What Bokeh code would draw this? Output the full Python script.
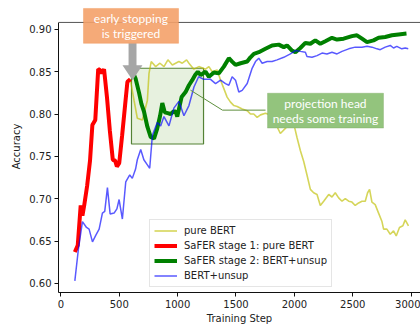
from bokeh.plotting import figure
from bokeh.models import (Range1d, Legend, LegendItem, BoxAnnotation, PolyAnnotation,
                          Label, Span, FixedTicker, NumeralTickFormatter)
from bokeh.embed import file_html
from bokeh.resources import INLINE

# ---------------- data ----------------
stage1_steps = [120, 145, 170, 185, 200, 225, 250, 270, 295, 320, 335, 350, 370, 395, 420,
                445, 465, 480, 500, 525, 550, 570, 595]
stage1_acc = [0.637, 0.645, 0.692, 0.680, 0.692, 0.715, 0.745, 0.787, 0.793, 0.853, 0.852,
              0.848, 0.853, 0.820, 0.780, 0.746, 0.745, 0.738, 0.742, 0.775, 0.810, 0.838, 0.841]

bert_steps_tail = [627, 655, 698, 741, 755, 774, 812, 849, 883, 917, 955, 1011, 1040, 1077,
                   1097, 1139, 1182, 1239, 1268, 1296, 1339, 1368, 1396, 1424, 1453, 1482,
                   1510, 1553, 1596, 1624, 1652, 1681, 1710, 1752, 1795, 1838, 1880, 1923,
                   1966, 1994, 2023, 2051, 2080, 2108, 2137, 2165, 2194, 2222, 2251, 2294,
                   2322, 2350, 2379, 2408, 2436, 2465, 2493, 2521, 2550, 2579, 2607, 2627,
                   2644, 2664, 2692, 2721, 2750, 2764, 2792, 2821, 2849, 2872, 2900, 2929,
                   2949, 2977]
bert_acc_tail = [0.816, 0.795, 0.793, 0.816, 0.848, 0.862, 0.856, 0.860, 0.856, 0.864, 0.858,
                 0.862, 0.860, 0.864, 0.860, 0.853, 0.856, 0.853, 0.856, 0.850, 0.852, 0.840,
                 0.830, 0.820, 0.814, 0.810, 0.809, 0.806, 0.804, 0.800, 0.800, 0.796, 0.799,
                 0.801, 0.799, 0.789, 0.777, 0.783, 0.791, 0.789, 0.772, 0.757, 0.744, 0.728,
                 0.711, 0.707, 0.705, 0.692, 0.697, 0.705, 0.702, 0.707, 0.701, 0.697, 0.700,
                 0.697, 0.696, 0.692, 0.695, 0.697, 0.697, 0.707, 0.711, 0.696, 0.693, 0.683,
                 0.673, 0.664, 0.664, 0.658, 0.662, 0.656, 0.666, 0.668, 0.675, 0.668]
bert_steps = stage1_steps + bert_steps_tail
bert_acc = stage1_acc + bert_acc_tail

stage2_steps = [615, 640, 670, 690, 712, 741, 769, 798, 826, 850, 869, 890, 915, 940, 965,
                983, 997, 1034, 1068, 1097, 1125, 1150, 1173, 1197, 1239, 1268, 1311, 1353,
                1396, 1439, 1467, 1496, 1539, 1596, 1624, 1653, 1695, 1752, 1809, 1866, 1909,
                1937, 1980, 2009, 2051, 2094, 2137, 2179, 2222, 2265, 2322, 2365, 2422, 2493,
                2536, 2579, 2622, 2678, 2721, 2778, 2835, 2892, 2960]
stage2_acc = [0.850, 0.842, 0.825, 0.812, 0.803, 0.785, 0.773, 0.771, 0.783, 0.798, 0.813,
              0.802, 0.801, 0.800, 0.803, 0.803, 0.797, 0.820, 0.826, 0.834, 0.840, 0.846,
              0.850, 0.846, 0.850, 0.844, 0.849, 0.848, 0.856, 0.866, 0.862, 0.858, 0.860,
              0.862, 0.867, 0.871, 0.873, 0.877, 0.881, 0.882, 0.879, 0.881, 0.875, 0.873,
              0.878, 0.884, 0.883, 0.887, 0.883, 0.886, 0.890, 0.888, 0.889, 0.892, 0.893,
              0.889, 0.885, 0.887, 0.890, 0.891, 0.893, 0.894, 0.895]

unsup_steps = [120, 150, 185, 220, 242, 271, 300, 328, 356, 376, 399, 422, 456, 480, 499,
               527, 556, 590, 612, 640, 655, 684, 711, 741, 761, 784, 826, 855, 883, 926,
               968, 1011, 1054, 1097, 1140, 1180, 1224, 1282, 1325, 1368, 1410, 1439, 1467,
               1496, 1524, 1553, 1596, 1638, 1667, 1695, 1724, 1767, 1809, 1852, 1909, 1966,
               2009, 2051, 2094, 2108, 2151, 2194, 2237, 2279, 2322, 2365, 2408, 2465, 2521,
               2579, 2622, 2665, 2707, 2735, 2778, 2821, 2849, 2877, 2920, 2949, 2975]
unsup_acc = [0.603, 0.640, 0.673, 0.666, 0.664, 0.649, 0.657, 0.664, 0.683, 0.685, 0.713,
             0.682, 0.683, 0.688, 0.699, 0.676, 0.720, 0.728, 0.724, 0.735, 0.746, 0.758,
             0.746, 0.740, 0.736, 0.775, 0.790, 0.786, 0.797, 0.786, 0.807, 0.815, 0.798,
             0.810, 0.832, 0.844, 0.841, 0.841, 0.836, 0.840, 0.836, 0.834, 0.844, 0.840,
             0.826, 0.828, 0.836, 0.854, 0.862, 0.866, 0.860, 0.862, 0.862, 0.864, 0.867,
             0.871, 0.875, 0.874, 0.873, 0.868, 0.867, 0.869, 0.872, 0.871, 0.873, 0.871,
             0.874, 0.877, 0.879, 0.879, 0.880, 0.879, 0.877, 0.876, 0.879, 0.881, 0.878,
             0.880, 0.877, 0.878, 0.877]

series_labels = ["pure BERT", "SaFER stage 1: pure BERT", "SaFER stage 2: BERT+unsup", "BERT+unsup"]
x_ticks = [0, 500, 1000, 1500, 2000, 2500, 3000]
y_ticks = [0.60, 0.65, 0.70, 0.75, 0.80, 0.85, 0.90]

# ---------------- figure ----------------
X0, X1 = -20, 3080
Y0, Y_AX_TOP, Y1 = 0.5892, 0.9082, 0.9341   # frame extends above the axes box for the callout
p = figure(width=420, height=326, output_backend="svg", toolbar_location=None,
           x_range=Range1d(X0, X1), y_range=Range1d(Y0, Y1),
           min_border_left=58, min_border_right=0, min_border_top=0, min_border_bottom=33)
p.outline_line_color = None
p.grid.visible = False
p.background_fill_color = "white"

for ax in (p.xaxis[0], p.yaxis[0]):
    ax.axis_line_color = "#111111"
    ax.major_tick_line_color = "#111111"
    ax.major_tick_out = 4
    ax.major_tick_in = 0
    ax.minor_tick_line_color = None
    ax.major_label_text_font = "DejaVu Sans"
    ax.major_label_text_font_size = "10px"
    ax.major_label_text_color = "#222222"
    ax.axis_label_text_font = "DejaVu Sans"
    ax.axis_label_text_font_size = "10px"
    ax.axis_label_text_font_style = "normal"
    ax.axis_label_text_color = "#222222"
    ax.major_label_standoff = 3

p.xaxis.ticker = FixedTicker(ticks=x_ticks)
p.yaxis.ticker = FixedTicker(ticks=y_ticks)
p.yaxis.formatter = NumeralTickFormatter(format="0.00")
p.yaxis.bounds = (Y0, Y_AX_TOP)
p.xaxis.axis_label = "Training Step"
p.yaxis.axis_label = "Accuracy"
p.xaxis.axis_label_standoff = 2
p.yaxis.axis_label_standoff = 4

p.add_layout(Span(location=Y_AX_TOP, dimension="width", line_color="#555555", line_width=1))

# shaded region (drawn beneath the curves)
p.add_layout(BoxAnnotation(left=605, right=1222, bottom=0.7646, top=0.8541,
                           fill_color="#e4f0dc", fill_alpha=0.9,
                           line_color="#548235", line_width=1.2, line_alpha=1.0,
                           level="underlay"))

r_bert = p.line(bert_steps, bert_acc, line_color="#bfbf00", line_alpha=0.65, line_width=1.6)
r_s1 = p.line(stage1_steps, stage1_acc, line_color="#ff0000", line_width=4)
r_s2 = p.line(stage2_steps, stage2_acc, line_color="#008000", line_width=4)
r_un = p.line(unsup_steps, unsup_acc, line_color="#0000ff", line_alpha=0.65, line_width=1.5)

legend = Legend(items=[LegendItem(label=series_labels[0], renderers=[r_bert]),
                       LegendItem(label=series_labels[1], renderers=[r_s1]),
                       LegendItem(label=series_labels[2], renderers=[r_s2]),
                       LegendItem(label=series_labels[3], renderers=[r_un])],
                location=(91, 5), orientation="vertical")
legend.label_text_font = "DejaVu Sans"
legend.label_text_font_size = "10px"
legend.label_text_color = "#222222"
legend.label_height = 13
legend.glyph_height = 13
legend.glyph_width = 23
legend.label_standoff = 7
legend.spacing = 2
legend.padding = 4
legend.margin = 0
legend.border_line_color = "#cccccc"
legend.background_fill_alpha = 0.85
p.add_layout(legend, "center")

# ---------------- annotations ----------------
# connector
p.line([1110, 1384, 1753], [0.8282, 0.8046, 0.8046], line_color="#5e8f3e", line_width=1)

# green label box
p.add_layout(BoxAnnotation(left=1770, right=2763, bottom=0.7834, top=0.8246,
                           fill_color="#93c47d", fill_alpha=1.0,
                           line_color="#6a9a4c", line_width=1))
p.add_layout(Label(x=2266, y=0.8129, text="projection head", text_align="center",
                   text_baseline="middle", text_font="Lato", text_font_size="12px",
                   text_color="white"))
p.add_layout(Label(x=2266, y=0.7952, text="needs some training", text_align="center",
                   text_baseline="middle", text_font="Lato", text_font_size="12px",
                   text_color="white"))

# gray arrow
p.add_layout(PolyAnnotation(xs=[580, 648, 648, 699, 614, 528, 580],
                            ys=[0.8835, 0.8835, 0.8576, 0.8576, 0.8399, 0.8576, 0.8576],
                            fill_color="#a6a6a6", fill_alpha=1.0, line_color=None))

# orange box
p.add_layout(BoxAnnotation(left=194, right=1008, bottom=0.8835, top=0.9247,
                           fill_color="#f4a169", fill_alpha=0.9,
                           line_color="#ed7d31", line_width=1))
p.add_layout(Label(x=601, y=0.9129, text="early stopping", text_align="center",
                   text_baseline="middle", text_font="Lato", text_font_size="12px",
                   text_color="white"))
p.add_layout(Label(x=601, y=0.8953, text="is triggered", text_align="center",
                   text_baseline="middle", text_font="Lato", text_font_size="12px",
                   text_color="white"))

open("out.html", "w").write(file_html(p, INLINE))
